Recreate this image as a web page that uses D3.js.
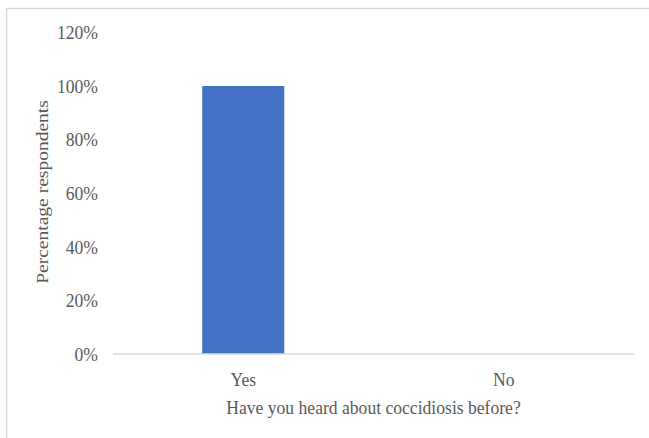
<!DOCTYPE html>
<html><head><meta charset="utf-8">
<script src="https://cdn.jsdelivr.net/npm/d3@7"></script>
<style>body{margin:0;background:#fff}svg{display:block}</style>
</head><body>
<script>
const categories = ["Yes", "No"];
const values = [1.00, 0.00];
const yTicks = [0, 0.2, 0.4, 0.6, 0.8, 1.0, 1.2];
const yTitle = "Percentage respondents";
const xTitle = "Have you heard about coccidiosis before?";

const W = 649, H = 438;
const svg = d3.select("body").append("svg").attr("width", W).attr("height", H);
const font = "'Liberation Serif','Times New Roman',serif";
const txt = "#595959";
const fs = 17.6, sy = 1.11;

// outer border
svg.append("rect").attr("x", 6.5).attr("y", 8.5).attr("width", W).attr("height", H)
  .attr("fill", "none").attr("stroke", "#d9d9d9").attr("stroke-width", 1.5);

const x = d3.scaleBand().domain(categories).range([113, 634]).paddingInner(0.685).paddingOuter(0.3425);
const y = d3.scaleLinear().domain([0, 1.2]).range([354, 32.4]);

function label(g, tx, ty, anchor, rot) {
  return g.append("text")
    .attr("transform", `translate(${tx},${ty}) scale(1,${sy})` + (rot ? " rotate(-90)" : ""))
    .attr("dy", "0.35em").attr("text-anchor", anchor)
    .attr("font-family", font).attr("font-size", fs).attr("fill", txt);
}

// y tick labels
yTicks.forEach(d => label(svg, 98, y(d), "end").text(d3.format(".0%")(d)));

// bars
svg.append("g").selectAll("rect").data(values).join("rect")
  .attr("x", (d, i) => x(categories[i])).attr("width", x.bandwidth())
  .attr("y", d => y(d)).attr("height", d => y(0) - y(d)).attr("fill", "#4472C4");

// baseline
svg.append("line").attr("x1", 113).attr("x2", 634).attr("y1", y(0)).attr("y2", y(0))
  .attr("stroke", "#d9d9d9").attr("stroke-width", 1.5);

// x labels
categories.forEach(c => label(svg, x(c) + x.bandwidth() / 2, 379, "middle").text(c));

// x title
label(svg, 373.5, 407, "middle").text(xTitle);

// y title
label(svg, 42, 192, "middle", true).text(yTitle);
</script>
</body></html>
